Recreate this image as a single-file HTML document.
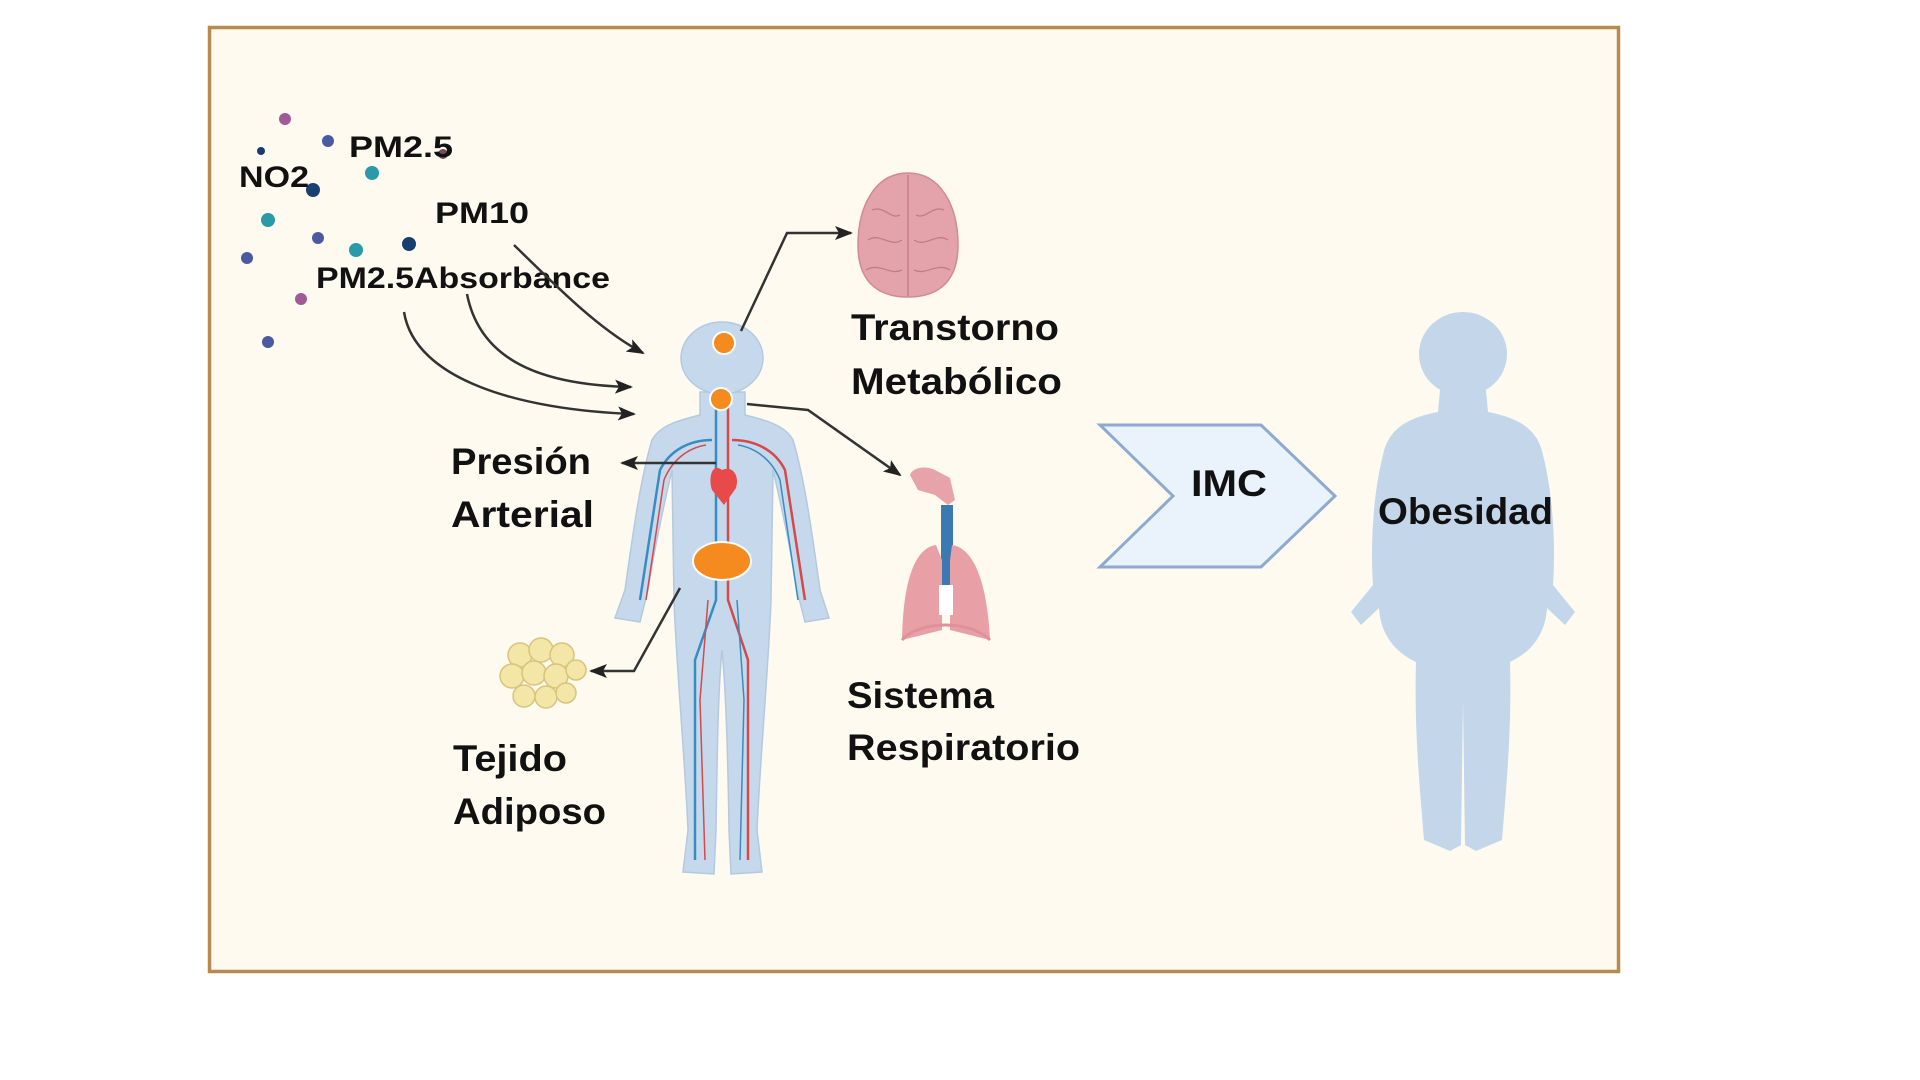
<!DOCTYPE html>
<html><head><meta charset="utf-8"><style>
html,body{margin:0;padding:0;background:#fff;}
svg{display:block;}
text{font-family:"Liberation Sans",sans-serif;font-weight:bold;fill:#111;}
</style></head><body>
<svg width="1920" height="1080" viewBox="0 0 1920 1080" xmlns="http://www.w3.org/2000/svg">
<defs>
<marker id="ah2" markerWidth="18" markerHeight="14" refX="16" refY="7" orient="auto" markerUnits="userSpaceOnUse">
<path d="M0,0 L18,7 L0,14 L4,7 Z" fill="#222"/>
</marker>
</defs>
<rect x="0" y="0" width="1920" height="1080" fill="#fff"/>
<rect x="209.5" y="27.5" width="1409" height="944" fill="#fefaf0" stroke="#b98a4e" stroke-width="3.5"/>

<g>
<circle cx="285" cy="119" r="6" fill="#a05a98"/>
<circle cx="328" cy="141" r="6" fill="#4a5aa0"/>
<circle cx="261" cy="151" r="4" fill="#1d3a70"/>
<circle cx="313" cy="190" r="7" fill="#173f70"/>
<circle cx="372" cy="173" r="7" fill="#2a9aa8"/>
<circle cx="268" cy="220" r="7" fill="#2a9aa8"/>
<circle cx="318" cy="238" r="6" fill="#4a5aa0"/>
<circle cx="356" cy="250" r="7" fill="#2a9aa8"/>
<circle cx="409" cy="244" r="7" fill="#173f70"/>
<circle cx="247" cy="258" r="6" fill="#4a5aa0"/>
<circle cx="301" cy="299" r="6" fill="#a05a98"/>
<circle cx="268" cy="342" r="6" fill="#4a5aa0"/>
<circle cx="443" cy="154" r="5" fill="#7a4a58"/>
</g>

<text x="349" y="157" font-size="30" textLength="104" lengthAdjust="spacingAndGlyphs">PM2.5</text>
<text x="239" y="187" font-size="30" textLength="70" lengthAdjust="spacingAndGlyphs">NO2</text>
<text x="435" y="223" font-size="30" textLength="94" lengthAdjust="spacingAndGlyphs">PM10</text>
<text x="316" y="288" font-size="30" textLength="294" lengthAdjust="spacingAndGlyphs">PM2.5Absorbance</text>

<g fill="none" stroke="#333" stroke-width="2.5">
<path d="M514 245 C560 290 600 330 643 353" marker-end="url(#ah2)"/>
<path d="M467 294 C480 360 540 385 631 387" marker-end="url(#ah2)"/>
<path d="M404 312 C415 380 520 410 634 414" marker-end="url(#ah2)"/>
</g>

<g fill="#c6d9ec" stroke="#b3c9e0" stroke-width="1.5">
<path d="M700 392 L700 415 C680 420 660 425 652 440 C640 480 632 540 625 590 L615 618 L640 622 L648 590 C655 545 665 500 672 470 L674 600 C676 660 685 760 688 830 L683 872 L714 874 L716 830 C717 760 718 690 722 650 C726 690 728 760 729 830 L731 874 L762 872 L757 830 C760 760 769 660 771 600 L773 470 C780 500 790 545 797 590 L805 622 L829 618 L820 590 C813 540 805 480 793 440 C785 425 765 420 745 415 L745 392 Z"/>
<ellipse cx="722" cy="358" rx="41" ry="36"/>
</g>
<g fill="none" stroke-width="2.5">
<path d="M716 405 L716 600 L695 660 L695 860" stroke="#3a8cc0"/>
<path d="M728 405 L728 600 L748 660 L748 860" stroke="#d24a4a"/>
<path d="M712 440 C690 440 670 450 660 470 L640 600" stroke="#3a8cc0"/>
<path d="M732 440 C755 440 775 450 785 470 L805 600" stroke="#d24a4a"/>
<path d="M706 445 C688 448 672 460 664 480 L646 600" stroke="#d24a4a" stroke-width="1.5"/>
<path d="M738 445 C756 448 772 460 780 480 L798 600" stroke="#3a8cc0" stroke-width="1.5"/>
<path d="M708 600 L700 700 L705 860" stroke="#d24a4a" stroke-width="1.5"/>
<path d="M737 600 L744 700 L740 860" stroke="#3a8cc0" stroke-width="1.5"/>
</g>
<path d="M722 470 C712 462 708 478 712 490 L724 505 L736 488 C740 475 732 465 722 470 Z" fill="#e84a4a"/>
<circle cx="724" cy="343" r="11" fill="#f58a1f" stroke="#fff" stroke-width="2"/>
<circle cx="721" cy="399" r="11" fill="#f58a1f" stroke="#fff" stroke-width="2"/>
<ellipse cx="722" cy="561" rx="29" ry="19" fill="#f58a1f" stroke="#fff" stroke-width="2"/>

<path d="M908 173 C940 173 958 205 958 245 C958 280 940 297 908 297 C876 297 858 280 858 245 C858 205 876 173 908 173 Z" fill="#e4a3ab" stroke="#d08a94" stroke-width="1.5"/>
<g fill="none" stroke="#c47a86" stroke-width="1.3">
<path d="M908 175 L908 296"/>
<path d="M872 210 C885 205 890 220 900 215"/><path d="M868 240 C880 232 890 248 902 240"/>
<path d="M866 270 C880 262 890 276 902 270"/><path d="M944 210 C932 205 926 220 916 215"/>
<path d="M948 240 C936 232 926 248 914 240"/><path d="M950 270 C936 262 926 276 914 270"/>
</g>

<g>
<path d="M910 475 C912 468 925 465 935 470 L950 478 L955 500 L948 505 L935 495 L918 490 Z" fill="#e8a3aa"/>
<rect x="941" y="505" width="12" height="80" fill="#3a7ab0"/>
<path d="M936 545 C915 548 903 580 902 640 L942 630 L942 560 Z" fill="#e8a0a6"/>
<path d="M952 545 C973 548 987 580 990 640 L950 630 L950 560 Z" fill="#e8a0a6"/>
<rect x="939" y="585" width="14" height="30" fill="#fff"/>
<path d="M902 640 C920 620 970 620 990 640" fill="none" stroke="#e09098" stroke-width="3"/>
</g>

<g fill="#f4e6a6" stroke="#d8c47a" stroke-width="1.5">
<circle cx="520" cy="655" r="12"/><circle cx="541" cy="650" r="12"/><circle cx="562" cy="655" r="12"/>
<circle cx="512" cy="676" r="12"/><circle cx="534" cy="673" r="12"/><circle cx="556" cy="676" r="12"/><circle cx="576" cy="670" r="10"/>
<circle cx="524" cy="696" r="11"/><circle cx="546" cy="697" r="11"/><circle cx="566" cy="693" r="10"/>
</g>

<g fill="none" stroke="#333" stroke-width="2.5">
<path d="M741 331 L787 233 L851 233" marker-end="url(#ah2)"/>
<path d="M747 404 L808 410 L900 475" marker-end="url(#ah2)"/>
<path d="M716 463 L622 463" marker-end="url(#ah2)"/>
<path d="M680 588 L634 671 L591 671" marker-end="url(#ah2)"/>
</g>

<text x="851" y="340" font-size="37" textLength="208" lengthAdjust="spacingAndGlyphs">Transtorno</text>
<text x="851" y="394" font-size="37" textLength="211" lengthAdjust="spacingAndGlyphs">Metabólico</text>
<text x="451" y="474" font-size="37" textLength="140" lengthAdjust="spacingAndGlyphs">Presión</text>
<text x="451" y="527" font-size="37" textLength="143" lengthAdjust="spacingAndGlyphs">Arterial</text>
<text x="453" y="771" font-size="37" textLength="114" lengthAdjust="spacingAndGlyphs">Tejido</text>
<text x="453" y="824" font-size="37" textLength="153" lengthAdjust="spacingAndGlyphs">Adiposo</text>
<text x="847" y="708" font-size="37" textLength="147" lengthAdjust="spacingAndGlyphs">Sistema</text>
<text x="847" y="760" font-size="37" textLength="233" lengthAdjust="spacingAndGlyphs">Respiratorio</text>

<path d="M1100 425 L1261 425 L1335 496 L1261 567 L1100 567 L1173 496 Z" fill="#eaf2fb" stroke="#8eaad0" stroke-width="3"/>
<text x="1191" y="496" font-size="37" textLength="76" lengthAdjust="spacingAndGlyphs">IMC</text>

<g fill="#c3d6ea">
<ellipse cx="1463" cy="354" rx="44" ry="42"/>
<path d="M1440 390 L1486 390 L1488 412 C1520 418 1538 430 1543 455 C1552 490 1556 540 1553 585 L1575 612 L1565 625 L1547 608 C1545 640 1525 655 1510 662 C1512 730 1506 790 1502 840 L1476 851 L1465 845 L1463 700 L1461 845 L1450 851 L1424 840 C1420 790 1414 730 1416 662 C1401 655 1381 640 1379 608 L1361 625 L1351 612 L1373 585 C1370 540 1374 490 1383 455 C1388 430 1406 418 1438 412 Z"/>
</g>
<text x="1378" y="524" font-size="37" textLength="175" lengthAdjust="spacingAndGlyphs">Obesidad</text>
</svg>
</body></html>
